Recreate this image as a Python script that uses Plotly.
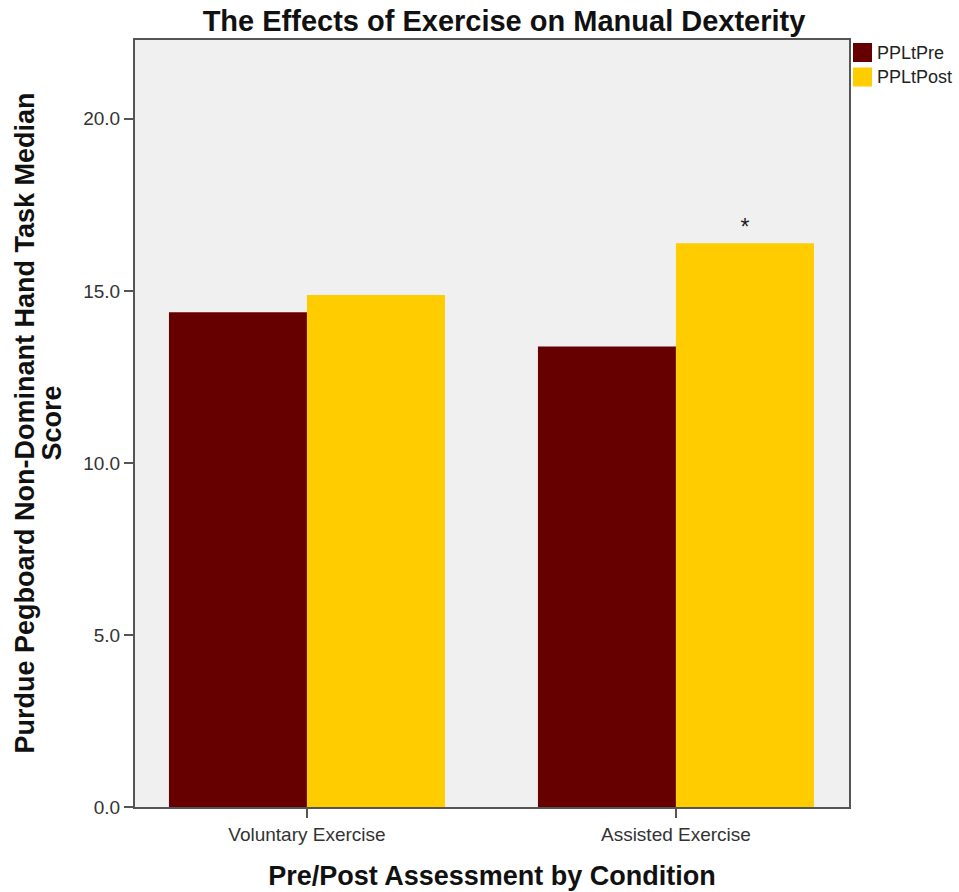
import plotly.graph_objects as go

# Median Purdue Pegboard non-dominant hand scores by condition
conditions = ["Voluntary Exercise", "Assisted Exercise"]
pre_scores = [14.38, 13.38]
post_scores = [14.88, 16.38]
significance = ["", "*"]

series_names = ["PPLtPre", "PPLtPost"]
series_colors = ["#660000", "#FFCC00"]

FONT = "Liberation Sans, Arial, sans-serif"

fig = go.Figure()
fig.add_trace(go.Bar(name=series_names[0], x=conditions, y=pre_scores,
                     marker=dict(color=series_colors[0], line=dict(width=0))))
fig.add_trace(go.Bar(name=series_names[1], x=conditions, y=post_scores,
                     marker=dict(color=series_colors[1], line=dict(width=0)),
                     text=significance, textposition="outside",
                     textfont=dict(family=FONT, size=23, color="#222"),
                     cliponaxis=False))

# plot-area geometry in pixels (used for the side legend and axis titles)
W, H = 959, 892
L, R, T, B = 135, 110, 40, 85
pw, ph = W - L - R, H - T - B


def px_x(x):
    return (x - L) / pw


def px_y(y):
    return (H - B - y) / ph


# side legend: coloured squares with labels
for i, (name, col) in enumerate(zip(series_names, series_colors)):
    top = 43 + i * 24.5
    fig.add_shape(type="rect", xref="paper", yref="paper",
                  x0=px_x(853), x1=px_x(872), y0=px_y(top), y1=px_y(top + 19),
                  fillcolor=col, line=dict(width=0))
    fig.add_annotation(xref="paper", yref="paper", x=px_x(875), y=px_y(top + 9.5),
                       xanchor="left", yanchor="middle", showarrow=False,
                       text=name, font=dict(family=FONT, size=18, color="#222"))

# two-line y-axis title
y_title = ["Purdue Pegboard Non-Dominant Hand Task Median", "Score"]
for line, xc in zip(y_title, [24, 51]):
    fig.add_annotation(xref="paper", yref="paper", x=px_x(xc), y=0.5,
                       xanchor="center", yanchor="middle", showarrow=False,
                       textangle=-90, text=f"<b>{line}</b>",
                       font=dict(family=FONT, size=27, color="#111"))

fig.update_layout(
    width=W, height=H,
    margin=dict(l=L, r=R, t=T, b=B, autoexpand=False),
    paper_bgcolor="white",
    plot_bgcolor="#F0F0F0",
    barmode="group",
    bargap=0.252,
    bargroupgap=0,
    title=dict(text="<b>The Effects of Exercise on Manual Dexterity</b>",
               x=504 / W, xanchor="center",
               y=1 - 21 / H, yanchor="middle",
               font=dict(family=FONT, size=29, color="#111")),
    font=dict(family=FONT, size=19, color="#333"),
    showlegend=False,
)
fig.update_xaxes(
    type="category",
    range=[-0.466, 1.469],
    showline=True, linecolor="#555", linewidth=2, mirror=True,
    ticks="outside", ticklen=9, tickcolor="#555", tickwidth=2,
    tickfont=dict(family=FONT, size=19, color="#333"),
    title=dict(text="<b>Pre/Post Assessment by Condition</b>",
               font=dict(family=FONT, size=27, color="#111"), standoff=22),
    showgrid=False,
)
fig.update_yaxes(
    range=[0, 22.29],
    tickvals=[0, 5, 10, 15, 20],
    tickformat=".1f",
    showline=True, linecolor="#555", linewidth=2, mirror=True,
    ticks="outside", ticklen=9, tickcolor="#555", tickwidth=2,
    tickfont=dict(family=FONT, size=19, color="#333"),
    showgrid=False, zeroline=False,
)

fig.write_html("out.html")
